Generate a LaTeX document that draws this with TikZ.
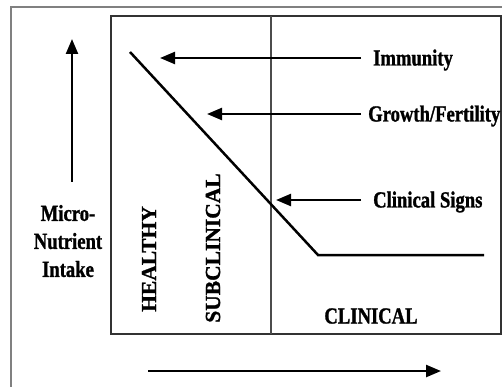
\documentclass[tikz,border=0pt]{standalone}
\usepackage{fontspec}
\usetikzlibrary{arrows.meta}
\newfontfamily\lblfont[FakeStretch=0.81,FakeBold=1.2]{Liberation Serif}
\newfontfamily\rotfont[FakeBold=1.2]{Liberation Serif}

\tikzset{
	lbl/.style={font=\lblfont\bfseries\fontsize{23}{28}\selectfont,inner sep=0pt},
	zone/.style={font=\rotfont\bfseries\fontsize{21.5}{26}\selectfont,inner sep=0pt,rotate=90},
	bigarrow/.style={line width=2.4pt,-{Triangle[length=15pt,width=12pt]}}
}

\begin{document}
\begin{tikzpicture}[x=1pt,y=-1pt]
	\useasboundingbox (0,0) rectangle (502,387);
	% frame and box
	\draw[gray,line width=1.5pt] (11,387) -- (11,7) -- (502,7);
	\draw[black!80,line width=2pt] (111,16) rectangle (501,334);
	\draw[black!70,line width=1.4pt] (271,16) -- (271,334);
	
	% intake curve
	\draw[line width=2.5pt] (130,52) -- (318,255) -- (484,255);
	
	% labels on the right
	\node[lbl,anchor=west] (immunity) at (373,60) {Immunity};
	\node[lbl,anchor=west] (growth) at (368,116) {Growth/Fertility};
	\node[lbl,anchor=west] (signs) at (373,202) {Clinical Signs};
	\coordinate (immtip) at (160,58);
	\coordinate (growtip) at (207,114);
	\coordinate (signtip) at (276,200);
	\draw[bigarrow] (immunity.west |- immtip) ++(-12,0) -- (immtip);
	\draw[bigarrow] (growth.west |- growtip) ++(-7,0) -- (growtip);
	\draw[bigarrow] (signs.west |- signtip) ++(-12,0) -- (signtip);
	
	% axis
	\node[lbl,align=center] (intake) at (68,241) {Micro-\\Nutrient\\Intake};
	\coordinate (ybot) at (72,182);
	\coordinate (ytop) at (72,39);
	\draw[bigarrow] (ybot) -- (ytop);
	\coordinate (xl) at (148,371);
	\coordinate (xr) at (441,371);
	\draw[bigarrow] (xl) -- (xr);
	
	% zones
	\node[zone] (healthy) at (149,259) {HEALTHY};
	\node[zone] (subclin) at (213,248) {SUBCLINICAL};
	\node[lbl] (clinical) at (371,316) {CLINICAL};
\end{tikzpicture}
\end{document}
